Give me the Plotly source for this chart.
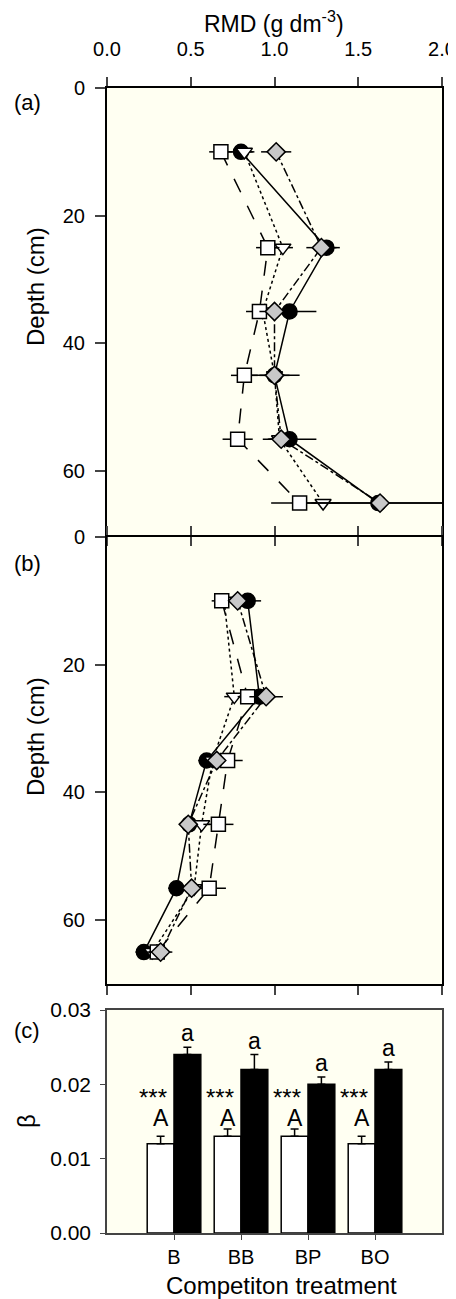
import plotly.graph_objects as go

# ---------------- data ----------------
depths = [10, 25, 35, 45, 55, 65]

# panel (a)
a_circle = [0.80, 1.31, 1.09, 1.00, 1.09, 1.62]
a_circle_err = [0.08, 0.08, 0.16, 0.15, 0.16, 0.40]
a_tri = [0.82, 1.05, 0.93, 1.00, 1.03, 1.29]
a_tri_err = [0.05, 0.06, 0.06, 0.06, 0.06, 0.10]
a_square = [0.68, 0.96, 0.91, 0.82, 0.78, 1.15]
a_square_err = [0.07, 0.07, 0.08, 0.08, 0.09, 0.17]
a_diamond = [1.01, 1.28, 1.00, 1.00, 1.04, 1.63]
a_diamond_err = [0.09, 0.09, 0.09, 0.09, 0.08, 0.40]

# panel (b)
b_circle = [0.84, 0.91, 0.595, 0.49, 0.415, 0.22]
b_circle_err = [0.08, 0.06, 0.05, 0.05, 0.05, 0.05]
b_tri = [0.70, 0.76, 0.63, 0.565, 0.52, 0.27]
b_tri_err = [0.05, 0.06, 0.05, 0.05, 0.05, 0.05]
b_square = [0.685, 0.84, 0.72, 0.665, 0.61, 0.30]
b_square_err = [0.06, 0.06, 0.09, 0.09, 0.10, 0.06]
b_diamond = [0.78, 0.95, 0.655, 0.485, 0.505, 0.32]
b_diamond_err = [0.05, 0.10, 0.05, 0.05, 0.05, 0.07]

# panel (c)
treatments = ["B", "BB", "BP", "BO"]
white_beta = [0.012, 0.013, 0.013, 0.012]
white_err = [0.001, 0.001, 0.001, 0.001]
black_beta = [0.024, 0.022, 0.020, 0.022]
black_err = [0.001, 0.002, 0.001, 0.001]

x_ticks = [0.0, 0.5, 1.0, 1.5, 2.0]
depth_ticks = [0, 20, 40, 60]
beta_ticks = [0.00, 0.01, 0.02, 0.03]

# ---------------- styling ----------------
FONT = "Arial, 'Liberation Sans', sans-serif"
BG = "#fffff2"
OFF = 8                     # page body margin
W, H = 456 - OFF, 1299 - OFF
L = 107 - OFF
R = W - (442 - OFF)

def py(px_page):
    return 1 - (px_page - OFF) / H

def px_to_paperx(px_page):
    return (px_page - OFF - L) / (W - L - R)

series_style = [
    # (symbol, fill, dash, size)
    ("circle", "black", "solid", 15),
    ("triangle-down", "white", "dot", 14),
    ("square", "white", "longdash", 14),
    ("diamond", "#c8c8c8", "dashdot", 14),
]

fig = go.Figure()

def add_profile(vals_list, errs_list, xa, ya):
    for (sym, fill, dash, size), vals, errs in zip(series_style, vals_list, errs_list):
        fig.add_trace(go.Scatter(
            x=vals, y=depths, xaxis=xa, yaxis=ya, mode="lines+markers",
            line=dict(color="black", width=1.5, dash=dash),
            marker=dict(symbol=sym, size=size, color=fill,
                        line=dict(color="black", width=1.5)),
            error_x=dict(type="data", array=errs, color="black",
                         thickness=1.5, width=0),
            showlegend=False,
        ))

add_profile([a_circle, a_tri, a_square, a_diamond],
            [a_circle_err, a_tri_err, a_square_err, a_diamond_err], "x", "y")
add_profile([b_circle, b_tri, b_square, b_diamond],
            [b_circle_err, b_tri_err, b_square_err, b_diamond_err], "x2", "y2")

idx = list(range(len(treatments)))
fig.add_trace(go.Bar(
    x=idx, y=white_beta, xaxis="x3", yaxis="y3", offsetgroup="w",
    marker=dict(color="white", line=dict(color="black", width=1.5)),
    error_y=dict(type="data", symmetric=False, array=white_err,
                 arrayminus=[0] * 4, color="black", thickness=1.5, width=4),
    showlegend=False,
))
fig.add_trace(go.Bar(
    x=idx, y=black_beta, xaxis="x3", yaxis="y3", offsetgroup="k",
    marker=dict(color="black", line=dict(color="black", width=1.5)),
    error_y=dict(type="data", symmetric=False, array=black_err,
                 arrayminus=[0] * 4, color="black", thickness=1.5, width=4),
    showlegend=False,
))

tickfont = dict(family=FONT, size=20, color="black")
common_x = dict(range=[0, 2], tickvals=x_ticks, ticks="outside", ticklen=9,
                tickwidth=1.5, showline=True, linewidth=2, linecolor="black",
                mirror="ticks", showgrid=False, zeroline=False, tickfont=tickfont,
                automargin=False)
common_y = dict(range=[70, 0], tickvals=depth_ticks, ticks="outside", ticklen=10,
                tickwidth=1.5, showline=True, linewidth=2, linecolor="black",
                mirror=True, showgrid=False, zeroline=False, tickfont=tickfont,
                ticklabelstandoff=6, automargin=False)

fig.update_layout(
    width=W, height=H,
    margin=dict(l=L, r=R, t=0, b=0, autoexpand=False),
    paper_bgcolor="white", plot_bgcolor=BG,
    font=dict(family=FONT, color="black"),
    barmode="group", bargap=0.2, bargroupgap=0,
    xaxis=dict(common_x, side="top", ticktext=[f"{v:.1f}" for v in x_ticks],
               ticklabelstandoff=13, domain=[0, 1], anchor="y"),
    yaxis=dict(common_y, domain=[py(535), py(88)], anchor="x"),
    xaxis2=dict(common_x, showticklabels=False, domain=[0, 1], anchor="y2"),
    yaxis2=dict(common_y, domain=[py(984), py(537)], anchor="x2"),
    xaxis3=dict(range=[-1, 4], tickvals=idx, ticktext=treatments, ticks="outside",
                ticklen=5, tickwidth=1.2, tickcolor="#444", showline=True,
                linewidth=1.5, linecolor="#444", mirror=True, showgrid=False,
                zeroline=False, tickfont=tickfont, domain=[0, 1], anchor="y3",
                automargin=False),
    yaxis3=dict(range=[0, 0.03], tickvals=beta_ticks,
                ticktext=[f"{v:.2f}" for v in beta_ticks], ticks="outside",
                ticklen=5, tickwidth=1.2, tickcolor="#444", showline=True,
                linewidth=1.5, linecolor="#444", mirror=True, showgrid=False,
                zeroline=False, tickfont=dict(tickfont, size=21),
                ticklabelstandoff=5, automargin=False,
                domain=[py(1233), py(1010)], anchor="x3"),
)

ann = []
def paper_text(text, xpx, ypx, size, angle=0):
    ann.append(dict(text=text, x=px_to_paperx(xpx), y=py(ypx), xref="paper",
                    yref="paper", showarrow=False, textangle=angle,
                    font=dict(family=FONT, size=size, color="black"),
                    xanchor="center", yanchor="middle"))

paper_text("RMD (g dm<sup>-3</sup>)", 274, 22, 23)
paper_text("(a)", 27, 103, 22)
paper_text("(b)", 27, 563, 22)
paper_text("(c)", 27, 1030, 22)
paper_text("Depth (cm)", 35, 287, 24, -90)
paper_text("Depth (cm)", 35, 737, 24, -90)
paper_text("β", 26, 1121, 24, -90)
paper_text("Competiton treatment", 281, 1285, 24)

for i in idx:
    ann.append(dict(text="***", x=i - 0.31, y=0.0192, xref="x3", yref="y3",
                    showarrow=False, yshift=-7,
                    font=dict(family=FONT, size=24, color="black")))
    ann.append(dict(text="A", x=i - 0.2, y=0.0155, xref="x3", yref="y3",
                    showarrow=False, font=dict(family=FONT, size=23, color="black")))
    ann.append(dict(text="a", x=i + 0.2, y=black_beta[i] + black_err[i],
                    xref="x3", yref="y3", showarrow=False, yshift=14,
                    font=dict(family=FONT, size=23, color="black")))

fig.update_layout(annotations=ann)
fig.write_html("out.html")
